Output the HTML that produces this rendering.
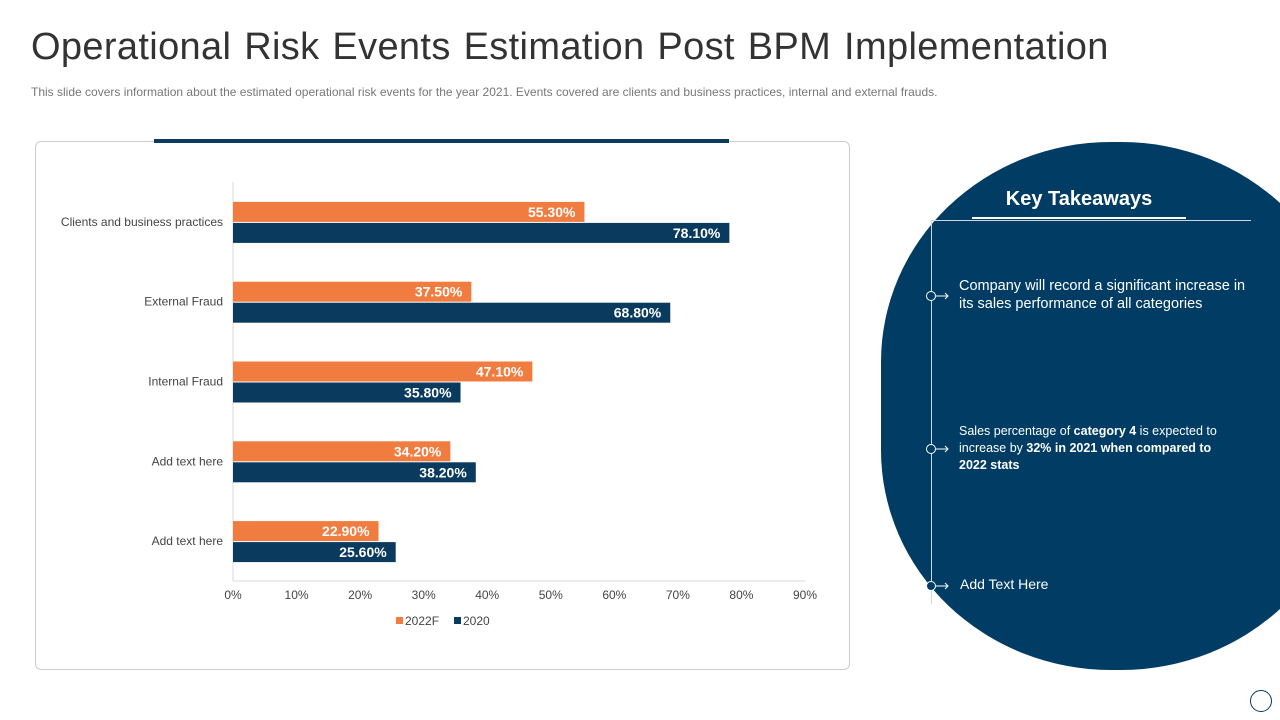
<!DOCTYPE html>
<html><head><meta charset="utf-8"><style>
body{margin:0;width:1280px;height:720px;background:#fff;position:relative;overflow:hidden;font-family:"Liberation Sans",sans-serif}
.abs{position:absolute}
</style></head><body>
<div class="abs" style="left:31px;top:26px;font-size:38px;letter-spacing:0.35px;word-spacing:2px;color:#333;white-space:nowrap">Operational Risk Events Estimation Post BPM Implementation</div>
<div class="abs" style="left:31px;top:85px;font-size:12px;color:#777;white-space:nowrap">This slide covers information about the estimated operational risk events for the year 2021. Events covered are clients and business practices, internal and external frauds.</div>
<div class="abs" style="left:35px;top:141px;width:813px;height:527px;border:1px solid #ccc;border-radius:6px"></div>
<div class="abs" style="left:154px;top:139px;width:575px;height:4px;background:#0a3a5e"></div>
<svg class="abs" id="chart" style="left:0;top:0" width="880" height="720"></svg>
<div class="abs" style="left:881px;top:142px;width:399px;height:528px;overflow:hidden">
<div class="abs" style="left:0;top:0;width:470px;height:528px;border-radius:230px / 220px;background:#003c63"></div>
</div>
<div class="abs" style="left:972px;top:188px;width:214px;text-align:center;font-size:20px;font-weight:bold;color:#fff">Key Takeaways</div>
<div class="abs" style="left:972px;top:217px;width:214px;height:2px;background:#fff"></div>
<div class="abs" style="left:931px;top:220px;width:320px;height:1px;background:#cfd8e0"></div>
<div class="abs" style="left:931px;top:220px;width:1px;height:384px;background:#cfd8e0"></div>
<svg class="abs" style="left:920px;top:280px" width="40" height="320">
<g fill="#003c63" stroke="#fff" stroke-width="1">
<circle cx="11" cy="16" r="4.5"/><line x1="16" y1="16" x2="28" y2="16"/><path d="M25 13 L28 16 L25 19" fill="none"/>
<circle cx="11" cy="169" r="4.5"/><line x1="16" y1="169" x2="28" y2="169"/><path d="M25 166 L28 169 L25 172" fill="none"/>
<circle cx="11" cy="306" r="4.5"/><line x1="16" y1="306" x2="28" y2="306"/><path d="M25 303 L28 306 L25 309" fill="none"/>
</g></svg>
<div class="abs" style="left:959px;top:277px;width:300px;font-size:14.5px;line-height:18px;color:#fff">Company will record a significant increase in its sales performance of all categories</div>
<div class="abs" style="left:959px;top:423px;width:278px;font-size:12.5px;line-height:17px;color:#fff">Sales percentage of <b>category 4</b> is expected to increase by <b>32% in 2021 when compared to 2022 stats</b></div>
<div class="abs" style="left:960px;top:576px;font-size:14px;color:#fff">Add Text Here</div>
<div class="abs" style="left:1250px;top:690px;width:20px;height:20px;border:1px solid #003c63;border-radius:50%"></div>
<script>
const categories=["Clients and business practices","External Fraud","Internal Fraud","Add text here","Add text here"];
const series2022=[55.3,37.5,47.1,34.2,22.9];
const series2020=[78.1,68.8,35.8,38.2,25.6];
const ticks=[0,10,20,30,40,50,60,70,80,90];
const svg=document.getElementById('chart');const NS='http://www.w3.org/2000/svg';
const x0=233,x1=805,maxV=90;const X=v=>x0+(x1-x0)*v/maxV;
const yTop=182,yBot=581,band=(yBot-yTop)/categories.length;const Y=i=>yTop+band*(i+0.5);
function el(t,a,txt){const e=document.createElementNS(NS,t);for(const k in a)e.setAttribute(k,a[k]);if(txt!=null)e.textContent=txt;svg.appendChild(e);return e;}
let ax=el('line',{x1:x0,y1:yTop,x2:x0,y2:yBot,stroke:'#d9d9d9'});

let bx=el('line',{x1:x0,y1:yBot,x2:x1,y2:yBot,stroke:'#d9d9d9'});

ticks.forEach(t=>{const e=el('text',{x:X(t),y:599,'text-anchor':'middle','font-size':12,fill:'#444'},t+'%');
});
categories.forEach((c,i)=>{const cy=Y(i);
const l=el('text',{x:223,y:cy+4,'text-anchor':'end','font-size':12,fill:'#444'},c);

const b1=el('rect',{x:x0,y:cy-20,width:X(series2022[i])-x0,height:20,fill:'#f07c3f'});

const t1=el('text',{x:X(series2022[i])-9,y:cy-5,'text-anchor':'end','font-size':14,'font-weight':'bold',fill:'#fff'},series2022[i].toFixed(2)+'%');

const b2=el('rect',{x:x0,y:cy+1,width:X(series2020[i])-x0,height:20,fill:'#0a3a5e'});

const t2=el('text',{x:X(series2020[i])-9,y:cy+16,'text-anchor':'end','font-size':14,'font-weight':'bold',fill:'#fff'},series2020[i].toFixed(2)+'%');
});
const lg=[['2022F','#f07c3f',396],['2020','#0a3a5e',454]];
lg.forEach(([n,c,x])=>{const r=el('rect',{x:x,y:617,width:7,height:7,fill:c});

const t=el('text',{x:x+9,y:625,'font-size':12,fill:'#444'},n);
});
</script>
</body></html>
